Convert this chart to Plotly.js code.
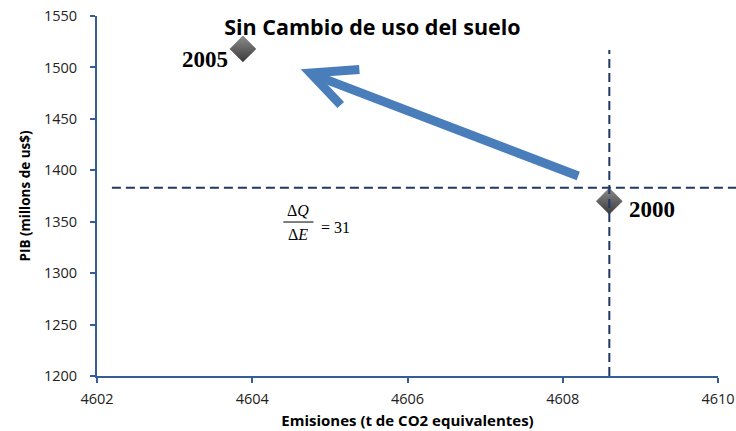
<!DOCTYPE html>
<html><head><meta charset="utf-8">
<script src="https://cdn.plot.ly/plotly-3.0.1.min.js"></script>
<style>html,body{margin:0;padding:0;background:#fff}#chart{width:736px;height:431px}</style>
</head><body><div id="chart"></div>
<script>
// Data
const years = ['2000', '2005'];
const emisiones = [4608.6, 4603.88];   // t de CO2 equivalentes
const pib = [1370, 1518];              // millones de US$
const refX = 4608.6;                   // vertical reference line
const refY = 1383;                     // horizontal reference line
const xTicks = [4602, 4604, 4606, 4608, 4610];
const yTicks = [1200, 1250, 1300, 1350, 1400, 1450, 1500, 1550];

const axisColor = '#355E99';
const dashColor = '#1F3864';
const sans = '"Open Sans", "DejaVu Sans", sans-serif';
const serif = '"Liberation Serif", "Times New Roman", serif';
const tickFont = {family: sans, size: 14.5, color: '#222'};

const trace = {
  x: emisiones, y: pib, mode: 'markers', type: 'scatter',
  marker: {symbol: 'diamond', size: 20, color: '#8c8c8c',
           gradient: {type: 'vertical', color: '#3a3a3a'},
           line: {width: 0.5, color: '#505050'}},
  hoverinfo: 'skip', showlegend: false, cliponaxis: false
};

const annotations = [
  {x: emisiones[1], y: pib[1], xref: 'x', yref: 'y', text: '<b>' + years[1] + '</b>', showarrow: false,
   xanchor: 'right', yanchor: 'middle', xshift: -13, yshift: -11,
   font: {family: serif, size: 23, color: '#000'}},
  {x: emisiones[0], y: pib[0], xref: 'x', yref: 'y', text: '<b>' + years[0] + '</b>', showarrow: false,
   xanchor: 'left', yanchor: 'middle', xshift: 18, yshift: -8,
   font: {family: serif, size: 23, color: '#000'}},
  // formula dQ/dE = 31
  {x: 4604.59, y: 1360.5, xref: 'x', yref: 'y', text: 'Δ<i>Q</i>', showarrow: false,
   font: {family: serif, size: 16, color: '#000'}},
  {x: 4604.59, y: 1337.5, xref: 'x', yref: 'y', text: 'Δ<i>E</i>', showarrow: false,
   font: {family: serif, size: 16, color: '#000'}},
  {x: 4605.07, y: 1344.5, xref: 'x', yref: 'y', text: '= 31', showarrow: false,
   font: {family: serif, size: 16, color: '#000'}}
];

const shapes = [
  {type: 'line', xref: 'paper', yref: 'y', x0: 0.024, x1: 1.03, y0: refY, y1: refY,
   line: {color: dashColor, width: 2, dash: '9px,5px'}},
  {type: 'line', xref: 'x', yref: 'y', x0: refX, x1: refX, y0: 1200, y1: 1517,
   line: {color: dashColor, width: 2, dash: '9px,5px'}},
  // fraction bar
  {type: 'line', xref: 'x', yref: 'y', x0: 4604.40, x1: 4604.79, y0: 1349.7, y1: 1349.7,
   line: {color: '#000', width: 1}},
  // arrow shaft
  {type: 'line', xref: 'x', yref: 'y', x0: 4608.20, y0: 1394.4, x1: 4604.82, y1: 1492,
   line: {color: '#4A7EBB', width: 9}},
  // arrow head
  {type: 'path', xref: 'x', yref: 'y',
   path: 'M 4605.38 1498 L 4604.75 1494.6 L 4605.14 1463.5',
   line: {color: '#4A7EBB', width: 9}}
];

const layout = {
  width: 736, height: 431,
  margin: {l: 97, r: 18, t: 16, b: 55},
  paper_bgcolor: '#fff', plot_bgcolor: '#fff',
  title: {text: '<b>Sin Cambio de uso del suelo</b>', x: 0.506, xanchor: 'center', y: 0.937, yanchor: 'middle',
          font: {family: sans, size: 21.5, color: '#000'}},
  xaxis: {range: [4602, 4610], tickvals: xTicks, ticktext: xTicks.map(String),
          showgrid: false, zeroline: false, showline: true, linecolor: axisColor, linewidth: 2,
          ticks: 'outside', ticklen: 5, tickcolor: axisColor, tickwidth: 2, tickfont: tickFont,
          ticklabelstandoff: 4,
          title: {text: '<b>Emisiones (t de CO2 equivalentes)</b>', standoff: 8,
                  font: {family: sans, size: 15, color: '#000'}}},
  yaxis: {range: [1200, 1550], tickvals: yTicks, ticktext: yTicks.map(String),
          showgrid: false, zeroline: false, showline: true, linecolor: axisColor, linewidth: 2,
          ticks: 'outside', ticklen: 5, tickcolor: axisColor, tickwidth: 2, tickfont: tickFont,
          ticklabelstandoff: 10,
          title: {text: '<b>PIB (millons de us$)</b>', standoff: 10,
                  font: {family: sans, size: 13.5, color: '#000'}}},
  annotations: annotations,
  shapes: shapes
};

Plotly.newPlot('chart', [trace], layout, {displayModeBar: false, staticPlot: true});
</script></body></html>
